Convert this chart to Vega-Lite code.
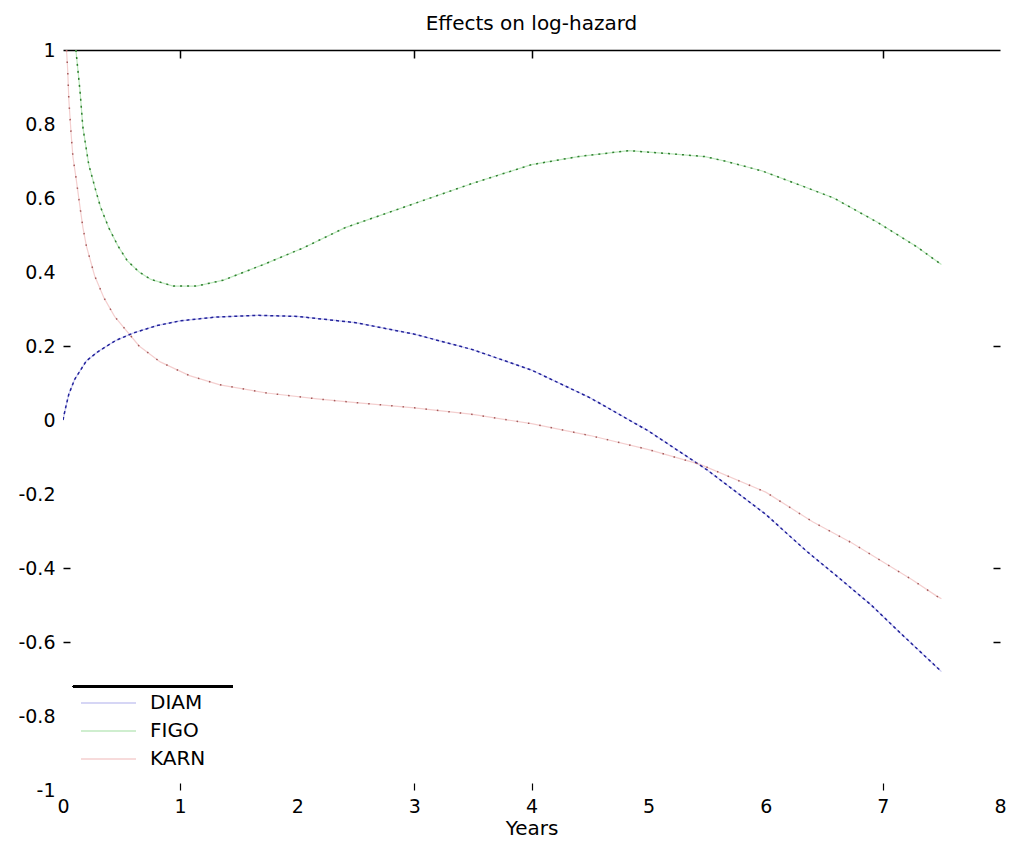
{
  "$schema": "https://vega.github.io/schema/vega-lite/v6.json",
  "width": 937,
  "height": 740,
  "autosize": {"type": "none"},
  "padding": {"left": 63, "top": 50, "right": 12, "bottom": 62},
  "background": "white",
  "config": {"view": {"stroke": null}, "font": "DejaVu Sans"},
  "title": {"text": "Effects on log-hazard", "fontSize": 20, "fontWeight": "normal", "font": "DejaVu Sans", "color": "black", "anchor": "middle", "baseline": "alphabetic", "offset": -9},
  "data": {"values": [
    {"s": "DIAM", "t": 0, "v": 0}, {"s": "DIAM", "t": 0.02, "v": 0.03}, {"s": "DIAM", "t": 0.05, "v": 0.07}, {"s": "DIAM", "t": 0.1, "v": 0.11}, {"s": "DIAM", "t": 0.2, "v": 0.16}, {"s": "DIAM", "t": 0.3, "v": 0.185}, {"s": "DIAM", "t": 0.45, "v": 0.215}, {"s": "DIAM", "t": 0.6, "v": 0.235}, {"s": "DIAM", "t": 0.8, "v": 0.255}, {"s": "DIAM", "t": 1.0, "v": 0.268}, {"s": "DIAM", "t": 1.3, "v": 0.278}, {"s": "DIAM", "t": 1.66, "v": 0.283}, {"s": "DIAM", "t": 2.0, "v": 0.28}, {"s": "DIAM", "t": 2.5, "v": 0.263}, {"s": "DIAM", "t": 3.0, "v": 0.232}, {"s": "DIAM", "t": 3.5, "v": 0.19}, {"s": "DIAM", "t": 4.0, "v": 0.135}, {"s": "DIAM", "t": 4.5, "v": 0.06}, {"s": "DIAM", "t": 5.0, "v": -0.03}, {"s": "DIAM", "t": 5.5, "v": -0.135}, {"s": "DIAM", "t": 6.0, "v": -0.255}, {"s": "DIAM", "t": 6.35, "v": -0.355}, {"s": "DIAM", "t": 6.6, "v": -0.42}, {"s": "DIAM", "t": 6.9, "v": -0.5}, {"s": "DIAM", "t": 7.15, "v": -0.576}, {"s": "DIAM", "t": 7.5, "v": -0.68},
    {"s": "FIGO", "t": 0.11, "v": 1.0}, {"s": "FIGO", "t": 0.145, "v": 0.89}, {"s": "FIGO", "t": 0.17, "v": 0.79}, {"s": "FIGO", "t": 0.22, "v": 0.69}, {"s": "FIGO", "t": 0.28, "v": 0.62}, {"s": "FIGO", "t": 0.32, "v": 0.576}, {"s": "FIGO", "t": 0.39, "v": 0.52}, {"s": "FIGO", "t": 0.47, "v": 0.47}, {"s": "FIGO", "t": 0.55, "v": 0.43}, {"s": "FIGO", "t": 0.65, "v": 0.4}, {"s": "FIGO", "t": 0.75, "v": 0.38}, {"s": "FIGO", "t": 0.94, "v": 0.362}, {"s": "FIGO", "t": 1.14, "v": 0.362}, {"s": "FIGO", "t": 1.37, "v": 0.378}, {"s": "FIGO", "t": 1.71, "v": 0.42}, {"s": "FIGO", "t": 2.05, "v": 0.465}, {"s": "FIGO", "t": 2.41, "v": 0.52}, {"s": "FIGO", "t": 3.0, "v": 0.585}, {"s": "FIGO", "t": 3.5, "v": 0.64}, {"s": "FIGO", "t": 4.0, "v": 0.69}, {"s": "FIGO", "t": 4.4, "v": 0.712}, {"s": "FIGO", "t": 4.83, "v": 0.728}, {"s": "FIGO", "t": 5.17, "v": 0.72}, {"s": "FIGO", "t": 5.48, "v": 0.712}, {"s": "FIGO", "t": 5.65, "v": 0.7}, {"s": "FIGO", "t": 5.97, "v": 0.673}, {"s": "FIGO", "t": 6.29, "v": 0.635}, {"s": "FIGO", "t": 6.58, "v": 0.6}, {"s": "FIGO", "t": 6.95, "v": 0.535}, {"s": "FIGO", "t": 7.29, "v": 0.468}, {"s": "FIGO", "t": 7.5, "v": 0.42},
    {"s": "KARN", "t": 0.03, "v": 1.0}, {"s": "KARN", "t": 0.04, "v": 0.946}, {"s": "KARN", "t": 0.05, "v": 0.865}, {"s": "KARN", "t": 0.07, "v": 0.77}, {"s": "KARN", "t": 0.085, "v": 0.71}, {"s": "KARN", "t": 0.11, "v": 0.657}, {"s": "KARN", "t": 0.145, "v": 0.576}, {"s": "KARN", "t": 0.17, "v": 0.52}, {"s": "KARN", "t": 0.2, "v": 0.47}, {"s": "KARN", "t": 0.27, "v": 0.39}, {"s": "KARN", "t": 0.35, "v": 0.33}, {"s": "KARN", "t": 0.44, "v": 0.28}, {"s": "KARN", "t": 0.65, "v": 0.2}, {"s": "KARN", "t": 0.83, "v": 0.157}, {"s": "KARN", "t": 1.08, "v": 0.12}, {"s": "KARN", "t": 1.34, "v": 0.095}, {"s": "KARN", "t": 1.74, "v": 0.073}, {"s": "KARN", "t": 2.17, "v": 0.057}, {"s": "KARN", "t": 2.5, "v": 0.047}, {"s": "KARN", "t": 3.0, "v": 0.033}, {"s": "KARN", "t": 3.5, "v": 0.015}, {"s": "KARN", "t": 4.0, "v": -0.01}, {"s": "KARN", "t": 4.5, "v": -0.042}, {"s": "KARN", "t": 5.0, "v": -0.08}, {"s": "KARN", "t": 5.44, "v": -0.12}, {"s": "KARN", "t": 6.0, "v": -0.195}, {"s": "KARN", "t": 6.4, "v": -0.275}, {"s": "KARN", "t": 6.74, "v": -0.333}, {"s": "KARN", "t": 7.25, "v": -0.432}, {"s": "KARN", "t": 7.46, "v": -0.476}, {"s": "KARN", "t": 7.5, "v": -0.483}
  ]},
  "layer": [
    {
      "mark": {"type": "line", "strokeWidth": 1.2, "clip": true},
      "encoding": {
        "x": {"field": "t", "type": "quantitative", "scale": {"domain": [0, 8], "nice": false},
          "axis": {"orient": "bottom", "values": [0, 1, 2, 3, 4, 5, 6, 7, 8], "domain": false, "grid": false,
            "tickSize": -7, "tickColor": "black", "tickWidth": 1.2,
            "tickOpacity": {"condition": {"test": "datum.value == 1 || datum.value == 3 || datum.value == 4 || datum.value == 7", "value": 1}, "value": 0},
            "labelFontSize": 19, "labelColor": "black", "labelFont": "DejaVu Sans", "labelPadding": 14, "labelFlush": false,
            "title": "Years", "titleFontSize": 20, "titleFontWeight": "normal", "titleColor": "black", "titleFont": "DejaVu Sans", "titlePadding": 2}},
        "y": {"field": "v", "type": "quantitative", "scale": {"domain": [-1, 1], "nice": false},
          "axis": {"orient": "left", "values": [-1, -0.8, -0.6, -0.4, -0.2, 0, 0.2, 0.4, 0.6, 0.8, 1], "domain": false, "grid": false,
            "tickSize": -7, "tickColor": "black", "tickWidth": 1.5,
            "tickOpacity": {"condition": {"test": "datum.value == 0.2 || datum.value == -0.4 || datum.value == -0.6", "value": 1}, "value": 0},
            "labelExpr": "datum.value + ''", "labelFontSize": 19, "labelColor": "black", "labelFont": "DejaVu Sans", "labelPadding": 15, "labelFlush": false,
            "title": null}},
        "color": {"field": "s", "type": "nominal",
          "scale": {"domain": ["DIAM", "FIGO", "KARN"], "range": ["#c9c9f2", "#bfe9bf", "#f4cfcf"]},
          "legend": {"orient": "none", "legendX": 33.5, "legendY": 641, "title": null, "padding": 0,
            "symbolType": "M-2.5,0H2.5", "symbolSize": 484, "symbolStrokeWidth": 1.5, "rowPadding": 6,
            "labelFontSize": 20, "labelColor": "black", "labelFont": "DejaVu Sans", "labelOffset": 29.5}}
      }
    },
    {
      "mark": {"type": "line", "strokeWidth": 1.5, "clip": true},
      "encoding": {
        "x": {"field": "t", "type": "quantitative",
          "axis": {"orient": "top", "values": [1, 3, 4, 7], "domain": true, "domainColor": "black", "domainWidth": 1.5, "grid": false,
            "tickSize": -8, "tickColor": "black", "tickWidth": 1.5, "labels": false, "title": null}},
        "y": {"field": "v", "type": "quantitative",
          "axis": {"orient": "right", "values": [0.2, -0.4, -0.6], "domain": false, "grid": false,
            "tickSize": -7, "tickColor": "black", "tickWidth": 1.5, "labels": false, "title": null}},
        "color": {"field": "s", "type": "nominal",
          "scale": {"domain": ["DIAM", "FIGO", "KARN"], "range": ["#22229a", "#2f7f2f", "#a45a5a"]},
          "legend": null},
        "strokeDash": {"field": "s", "type": "nominal",
          "scale": {"domain": ["DIAM", "FIGO", "KARN"], "range": [[3, 3], [2, 5], [1.5, 10]]},
          "legend": null}
      }
    },
    {
      "mark": {"type": "rule", "color": "black", "strokeWidth": 1.5},
      "encoding": {
        "x": {"datum": 0.085, "type": "quantitative", "axis": null},
        "x2": {"datum": 1.45},
        "y": {"datum": -0.72, "type": "quantitative", "axis": null}
      }
    }
  ],
  "resolve": {"scale": {"color": "independent", "strokeDash": "independent"}, "axis": {"x": "independent", "y": "independent"}}
}
